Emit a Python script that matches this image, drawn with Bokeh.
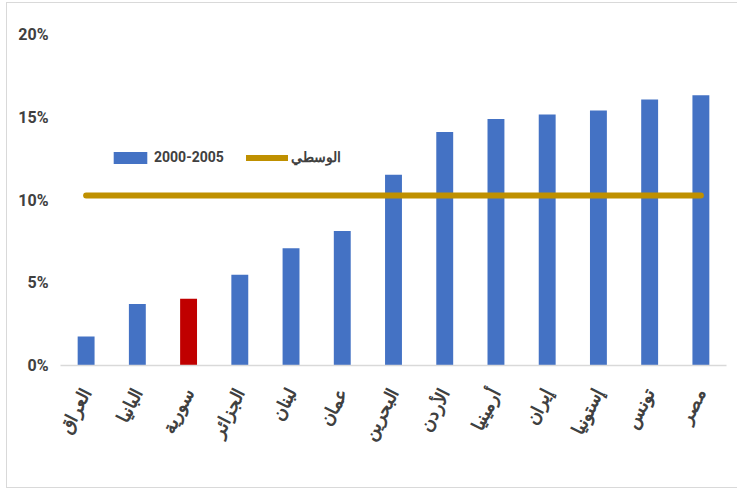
from bokeh.plotting import figure
from bokeh.models import (FactorRange, Range1d, FixedTicker, Legend, LegendItem,
                          ColumnDataSource)
from bokeh.embed import file_html
from bokeh.resources import INLINE

# Average growth rate, 2000-2005 (share, %)
countries = ["العراق", "البانيا", "سورية", "الجزائر", "لبنان", "عمان", "البحرين",
             "الأردن", "أرمينيا", "إيران", "إستونيا", "تونس", "مصر"]
growth = [1.75, 3.71, 4.03, 5.48, 7.08, 8.13, 11.53, 14.11, 14.9, 15.16, 15.41, 16.07, 16.33]
median_value = 10.27
highlight = "سورية"

y_ticks = [0, 5, 10, 15, 20]
y_tick_labels = ["0%", "5%", "10%", "15%", "20%"]

BLUE = "#4472C4"
RED = "#C00000"
GOLD = "#BF9000"
TEXT = "#404040"
FONT = "Roboto"

colors = [RED if c == highlight else BLUE for c in countries]
src = ColumnDataSource(dict(x=countries, top=growth, color=colors))

# chart sits inside a thin light-grey frame (left, top, bottom edges)
p = figure(width=731, height=486, x_range=FactorRange(*countries), y_range=Range1d(0, 20),
           output_backend="svg", toolbar_location=None,
           min_border_left=53, min_border_right=12, min_border_top=31, min_border_bottom=124)
p.margin = (2, 0, 0, 6)
p.styles = {"border-left": "1px solid #D9D9D9", "border-top": "1px solid #D9D9D9",
            "border-bottom": "1px solid #D9D9D9"}
p.outline_line_color = None
p.grid.visible = False
p.background_fill_color = "white"
p.border_fill_color = "white"

bars = p.vbar(x="x", top="top", width=0.33, fill_color="color", line_color=None, source=src)
med = p.line(x=[countries[0], countries[-1]], y=[median_value, median_value],
             line_color=GOLD, line_width=6, line_cap="round")

# y axis: percent labels only
p.yaxis.ticker = FixedTicker(ticks=y_ticks)
p.yaxis.major_label_overrides = {t: l for t, l in zip(y_ticks, y_tick_labels)}
p.yaxis.axis_line_color = None
p.yaxis.major_tick_line_color = None
p.yaxis.minor_tick_line_color = None
p.yaxis.major_tick_out = 0
p.yaxis.major_label_standoff = 12
p.yaxis.major_label_text_font = FONT
p.yaxis.major_label_text_font_style = "bold"
p.yaxis.major_label_text_font_size = "16px"
p.yaxis.major_label_text_color = TEXT

# x axis: rotated country names
p.xaxis.axis_line_color = "#D9D9D9"
p.xaxis.axis_line_width = 1.5
p.xaxis.major_tick_line_color = None
p.xaxis.minor_tick_line_color = None
p.xaxis.major_tick_out = 0
p.xaxis.major_label_orientation = 1.1
p.xaxis.major_label_standoff = 24
p.xaxis.major_label_text_font = FONT
p.xaxis.major_label_text_font_style = "bold"
p.xaxis.major_label_text_font_size = "18px"
p.xaxis.major_label_text_color = TEXT

legend = Legend(items=[LegendItem(label="2000-2005", renderers=[bars], index=0),
                       LegendItem(label="الوسطي", renderers=[med])],
                orientation="horizontal", location=(49, 200),
                glyph_width=42, glyph_height=15, label_standoff=3, spacing=22,
                padding=0, margin=0, border_line_color=None, background_fill_alpha=0,
                label_text_font=FONT, label_text_font_style="bold",
                label_text_font_size="14px", label_text_color=TEXT)
p.add_layout(legend, "center")

open("out.html", "w").write(file_html(p, INLINE))
